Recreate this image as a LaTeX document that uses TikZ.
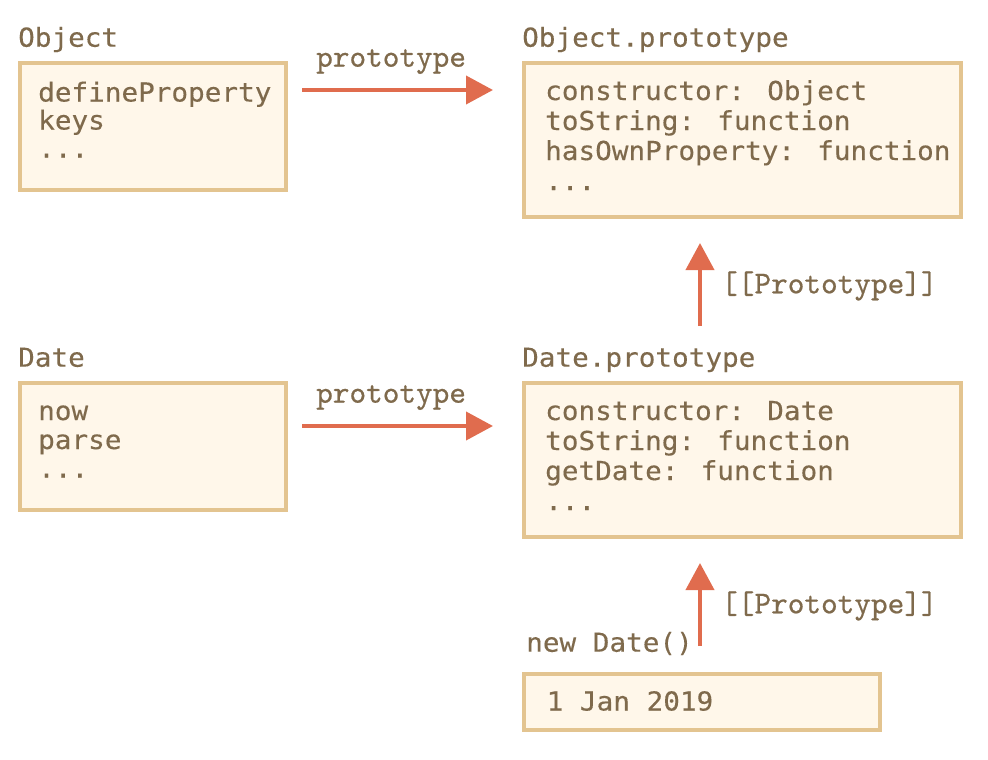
\documentclass[tikz,border=0pt]{standalone}
\usepackage{fontspec}
\usetikzlibrary{arrows.meta,calc}
\newfontfamily\boxfont{DejaVu Sans Mono}[FakeStretch=1.06,FakeBold=0.3]
\newfontfamily\labfont{lmmono10-regular.otf}[FakeBold=0.6]
\definecolor{txt}{HTML}{7F6A4C}
\definecolor{edge}{HTML}{E3C490}
\definecolor{fillc}{HTML}{FFF7EA}
\definecolor{arrc}{HTML}{E06C4E}
\begin{document}
\begin{tikzpicture}[x=1pt,y=1pt,
  objbox/.style={draw=edge,fill=fillc,line width=4pt,rectangle,inner sep=0pt,outer sep=0pt},
  txtline/.style={text=txt,inner sep=0pt,anchor=base west,font=\boxfont\fontsize{26.1}{30}\selectfont},
  lab/.style={text=txt,inner sep=0pt,anchor=base west,font=\labfont\fontsize{31.7}{32}\selectfont},
  arr/.style={draw=arrc,line width=4pt,-{Triangle[length=27pt,width=28pt]}}]
\useasboundingbox (0,0) rectangle (988,-760);
% boxes
\node[objbox,minimum width=266pt,minimum height=127pt] (objbox) at (153,-126.5) {};
\node[objbox,minimum width=437pt,minimum height=154pt] (objproto) at (742.5,-140) {};
\node[objbox,minimum width=266pt,minimum height=127pt] (datebox) at (153,-446.5) {};
\node[objbox,minimum width=437pt,minimum height=154pt] (dateproto) at (742.5,-460) {};
\node[objbox,minimum width=356pt,minimum height=56pt] (jan) at (702,-702) {};
% titles
\node[txtline] (t1) at (18,-46.7) {Object};
\node[txtline] (t2) at (522,-46.7) {Object.prototype};
\node[txtline] (t3) at (18,-366.7) {Date};
\node[txtline] (t4) at (522,-366.7) {Date.prototype};
\node[txtline] (t5) at (526,-651.7) {new Date()};
% Object box
\node[txtline] (o1) at (38,-101.5) {defineProperty};
\node[txtline] (o2) at (38,-129.5) {keys};
\node[txtline] (o3) at (38,-157.5) {...};
% Object.prototype box
\node[txtline] (p1) at (545,-100) {constructor: Object};
\node[txtline] (p2) at (545,-130) {toString: function};
\node[txtline] (p3) at (545,-160) {hasOwnProperty: function};
\node[txtline] (p4) at (545,-190) {...};
% Date box
\node[txtline] (d1) at (38,-420) {now};
\node[txtline] (d2) at (38,-449) {parse};
\node[txtline] (d3) at (38,-477.5) {...};
% Date.prototype box
\node[txtline] (q1) at (545,-420) {constructor: Date};
\node[txtline] (q2) at (545,-450) {toString: function};
\node[txtline] (q3) at (545,-480) {getDate: function};
\node[txtline] (q4) at (545,-510) {...};
% 1 Jan 2019
\node[txtline] (j1) at (546.5,-710.5) {1 Jan 2019};
% arrow labels
\node[lab] (l1) at (316,-66.7) {prototype};
\node[lab] (l2) at (316,-402.7) {prototype};
\node[lab] (l3) at (721,-293.3) {[[Prototype]]};
\node[lab] (l4) at (721,-613.3) {[[Prototype]]};
% arrows
\draw[arr] ($(objbox.north east)+(16,-27)$) -- ($(objproto.north west)+(-31,-27)$);
\draw[arr] ($(datebox.north east)+(16,-43)$) -- ($(dateproto.north west)+(-31,-43)$);
\draw[arr] ($(dateproto.north west)+(176,57)$) -- ($(objproto.south west)+(176,-26)$);
\draw[arr] ($(jan.north west)+(176,28)$) -- ($(dateproto.south west)+(176,-26)$);
\end{tikzpicture}
\end{document}
